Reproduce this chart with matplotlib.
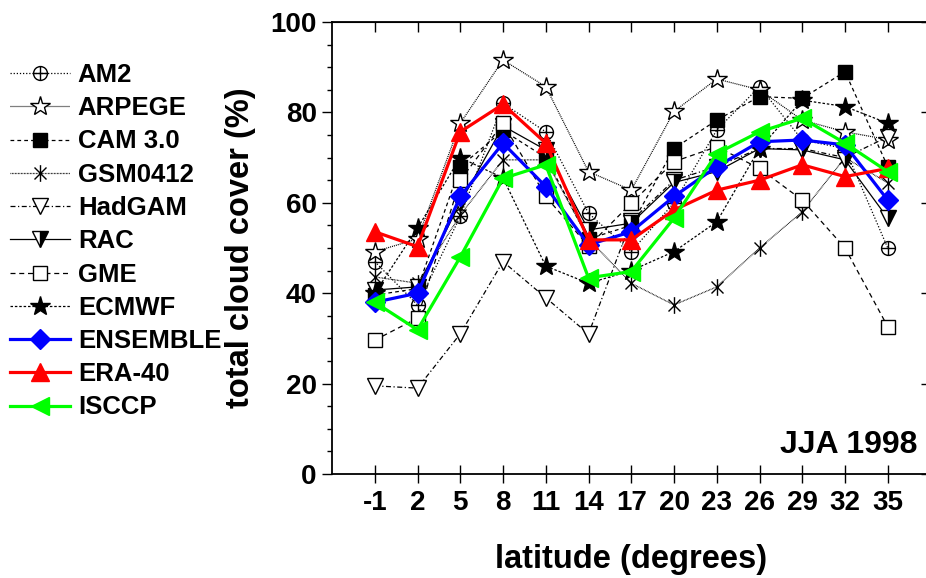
import numpy as np
import matplotlib.pyplot as plt
from matplotlib.path import Path

plt.rcParams['font.family'] = 'Liberation Sans'
plt.rcParams['font.weight'] = 'bold'
plt.rcParams['axes.labelweight'] = 'bold'
plt.rcParams['axes.unicode_minus'] = False

# latitude bins
lats = [-1, 2, 5, 8, 11, 14, 17, 20, 23, 26, 29, 32, 35]

# total cloud cover (%)
am2      = [47, 37.4, 57, 82, 75.7, 57.7, 49.2, 60, 76.1, 85.7, 73.9, 72, 50]
arpege   = [49.2, 52, 77.6, 91.6, 85.7, 66.9, 62.8, 80.2, 87.4, 85, 78.3, 75.7, 74]
cam3     = [39.6, 41, 68, 76, 70, 52, 55, 72, 78.3, 83.5, 83.1, 89, 68]
gsm      = [43.6, 42.2, 57.3, 69.5, 69.5, 52, 42.2, 37.4, 41.4, 50, 58, 70, 64.4]
hadgam   = [19.5, 19, 31, 47, 39, 31, 56, 65, 68, 72, 72, 70, 74.6]
rac      = [40.7, 41.4, 60, 77, 71.7, 54, 55.5, 64.5, 66.9, 72, 71.7, 69.5, 56.6]
gme      = [29.6, 34.5, 65, 77.6, 61.4, 50.4, 59.9, 69.1, 72.4, 67.6, 60.6, 50, 32.6]
ecmwf    = [40, 54.4, 70, 65.5, 46, 42.2, 45, 49.2, 55.8, 72, 82.7, 81.3, 77.6]
ensemble = [38, 40, 61.4, 73.2, 63.6, 50.7, 53.6, 61.4, 68, 73.5, 73.9, 72.8, 60.6]
era40    = [53.6, 50.3, 75.7, 81.8, 73.2, 51.8, 51.8, 58.4, 62.8, 65, 68.4, 65.8, 67.6]
isccp    = [38, 31.9, 48, 65.4, 68.4, 43.4, 44.8, 56.6, 70.9, 75.7, 78.7, 73.2, 66.9]

# circle with a cross inside, and a 6-arm asterisk
oplus = Path.make_compound_path(
    Path.unit_circle(),
    Path([[-1, 0], [1, 0], [0, -1], [0, 1]],
         [Path.MOVETO, Path.LINETO, Path.MOVETO, Path.LINETO]))
d = 0.72
aster = Path([[0, -1], [0, 1], [-d, -d], [d, d], [-d, d], [d, -d]],
             [Path.MOVETO, Path.LINETO] * 3)

fig = plt.figure(figsize=(9.26, 5.78), dpi=100)
ax = fig.add_axes([332 / 926, 104 / 578, 598.5 / 926, 452 / 578])

thin = dict(color='black', lw=0.9, mec='black', mew=1.0)
ax.plot(lats, am2, ls=(0, (1, 1.5)), marker=oplus, ms=10, mfc='none', label='AM2', **thin)
ax.plot(lats, arpege, ls=(0, (0.8, 0.8)), marker='*', ms=15, mfc='white', label='ARPEGE', **thin)
ax.plot(lats, cam3, ls=(0, (3, 2.5)), marker='s', ms=10, mfc='black', label='CAM 3.0', **thin)
ax.plot(lats, gsm, ls=(0, (0.6, 0.6)), marker=aster, ms=12, mfc='none', label='GSM0412', **thin)
ax.plot(lats, hadgam, ls=(0, (4, 2, 1, 2)), marker='v', ms=12, mfc='white', label='HadGAM', **thin)
ax.plot(lats, rac, ls='-', marker='v', ms=12, mfc='black', fillstyle='right',
        markerfacecoloralt='white', label='RAC', **thin)
ax.plot(lats, gme, ls=(0, (4, 3)), marker='s', ms=10, mfc='white', label='GME', **thin)
ax.plot(lats, ecmwf, ls=(0, (2, 1.5)), marker='*', ms=15, mfc='black', label='ECMWF', **thin)

ax.plot(lats, ensemble, color='#0000ff', lw=2.3, marker='D', ms=10, label='ENSEMBLE')
ax.plot(lats, era40, color='#ff0000', lw=2.3, marker='^', ms=13, label='ERA-40')
ax.plot(lats, isccp, color='#00ff00', lw=2.3, marker='<', ms=13, label='ISCCP')

ax.set_xlim(-4, 38)
ax.set_ylim(0, 100)
ax.set_xticks(lats)
ax.set_yticks([0, 20, 40, 60, 80, 100])
ax.set_yticks(np.arange(0, 101, 5), minor=True)
ax.tick_params(axis='x', direction='inout', length=13, width=1.0, labelsize=20, pad=5)
ax.tick_params(axis='y', which='major', direction='out', length=7, width=1.0, labelsize=20, pad=4)
ax.tick_params(axis='y', which='minor', direction='out', length=3.6, width=1.0)
for sp in ax.spines.values():
    sp.set_linewidth(1.3)

top = ax.secondary_xaxis('top')
top.set_xticks(lats)
top.tick_params(direction='in', length=7, width=1.0, labeltop=False)
right = ax.secondary_yaxis('right')
right.set_yticks([0, 20, 40, 60, 80, 100])
right.tick_params(direction='in', length=7, width=1.0, labelright=False)

ax.set_xlabel('latitude (degrees)', fontsize=23.5, fontweight='bold', labelpad=20)
ax.set_ylabel('total cloud cover (%)', fontsize=23.5, fontweight='bold', labelpad=10)
ax.text(37.1, 4.6, 'JJA 1998', fontsize=23, ha='right', va='baseline')

fig.legend(loc='upper left', bbox_to_anchor=(10 / 926, 1 - 63 / 578), frameon=False,
           fontsize=18.5, handlelength=2.33, handletextpad=0.31, labelspacing=0.36,
           borderpad=0, borderaxespad=0, numpoints=1)

plt.savefig('out.png', dpi=100)
